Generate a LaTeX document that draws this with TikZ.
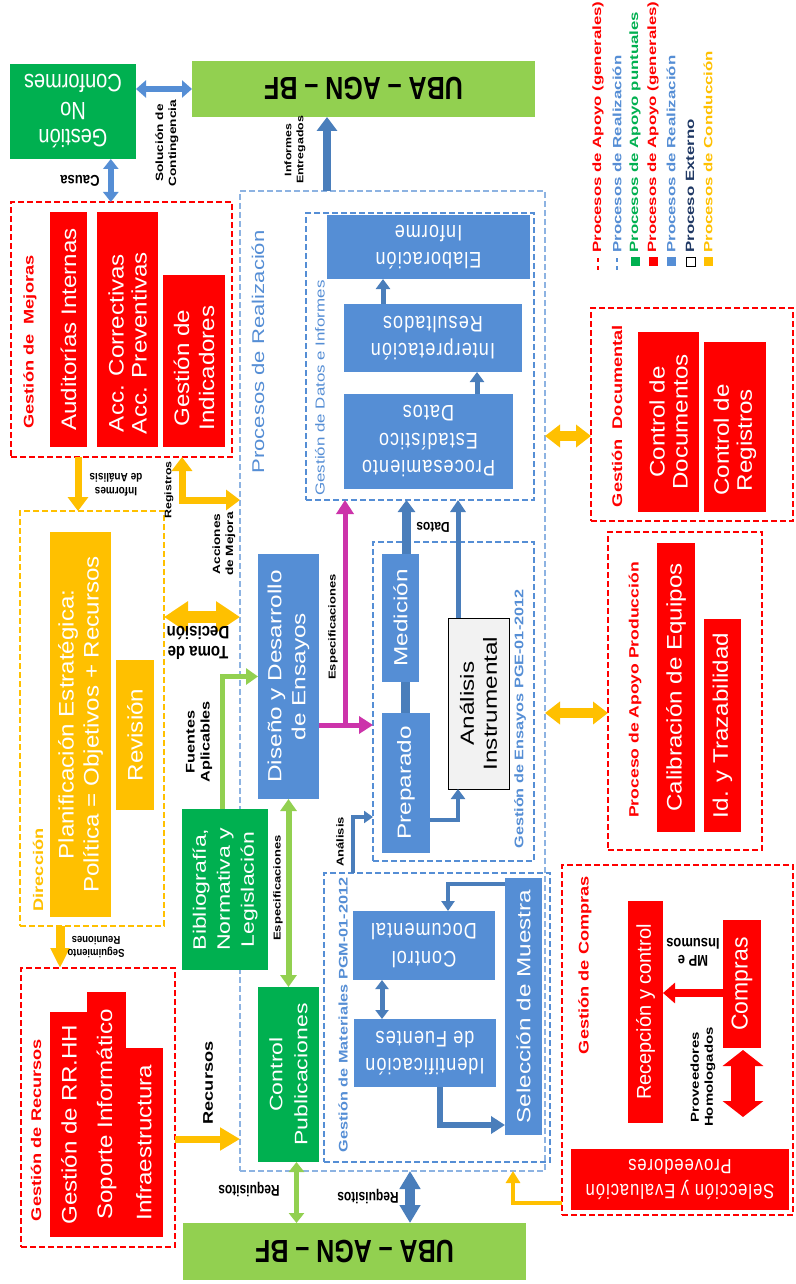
\documentclass[tikz,border=0pt]{standalone}
\usepackage{fontspec}
\setmainfont{Liberation Sans}
\newfontfamily\lsp[LetterSpace=6]{Liberation Sans}
\usetikzlibrary{arrows.meta,calc}
\newcommand\fs[2]{\fontsize{#1}{#2}\selectfont}
\definecolor{cred}{RGB}{255,0,0}
\definecolor{cblue}{RGB}{85,142,213}
\definecolor{cbluel}{RGB}{141,179,226}
\definecolor{carr}{RGB}{74,126,187}
\definecolor{cgreen}{RGB}{0,176,80}
\definecolor{clgreen}{RGB}{146,208,80}
\definecolor{cyel}{RGB}{255,192,0}
\definecolor{cmag}{RGB}{204,51,170}
\definecolor{cgray}{RGB}{242,242,242}
\definecolor{cnavy}{RGB}{31,56,100}
\tikzset{
 box/.style={anchor=north west,inner sep=0pt,outer sep=0pt},
 rdash/.style={draw=cred,line width=1.8pt,dash pattern=on 6pt off 3pt},
 ydash/.style={draw=cyel,line width=1.5pt,dash pattern=on 6pt off 3pt},
 odash/.style={draw=cbluel,line width=1.5pt,dash pattern=on 6pt off 3pt},
 idash/.style={draw=cblue,line width=1.5pt,dash pattern=on 6pt off 3pt},
 vtxt/.style={rotate=90,xscale=#1,align=center,inner sep=0pt},
 vtxt/.default=1.3,
 utxt/.style={rotate=180,yscale=#1,align=center,inner sep=0pt},
 utxt/.default=1.25,
 lbl/.style={font=\bfseries\fs{10}{12}},
 wt/.style={text=white},
}
\newcommand\bx[6]{\node[box,#6,minimum width={(#4-#2)*1pt},minimum height={(#5-#3)*1pt}] (#1) at (#2,#3) {};}
\begin{document}
\begin{tikzpicture}[x=1pt,y=-1pt]
\fill[white] (0,0) rectangle (795,1284);
\useasboundingbox (0,0) rectangle (795,1284);

% ---------- legend ----------
\foreach \x/\c/\t in {598/cred/Procesos de Apoyo (generales),617/cblue/Procesos de Realización,635/cgreen/Procesos de Apoyo puntuales,653/cred/Procesos de Apoyo (generales),671/cblue/Procesos de Realización,690/cnavy/Proceso Externo,708/cyel/Procesos de Conducción}
  \node[rotate=90,xscale=1.4,anchor=west,inner sep=0pt,text=\c,font=\bfseries\fs{12}{14}] at (\x,253) {\t};
\draw[cred,line width=1.8pt] (598,258) -- (598,262) (598,266) -- (598,270);
\draw[cblue,line width=1.8pt] (617,258) -- (617,262) (617,266) -- (617,270);
\fill[cgreen] (631,257) rectangle (640,266);
\fill[cred] (649,257) rectangle (658,266);
\fill[cblue] (667,257) rectangle (676,266);
\draw[black,line width=1pt] (686,257) rectangle (695,266);
\fill[cyel] (704,257) rectangle (713,266);

% ---------- top ----------
\bx{nc}{10}{64}{136}{159}{fill=cgreen}
\node[utxt,wt,font=\fs{20}{22}] at (nc.center) {Gestión\\No\\Conformes};
\bx{uba1}{192}{61}{535}{117}{fill=clgreen}
\node[utxt=1.28,font=\bfseries\fs{25}{28}] at (uba1.center) {UBA – AGN – BF};

% ---------- Gestión de Mejoras ----------
\bx{mej}{11}{202}{232}{457}{rdash}
\node[vtxt,text=cred,font=\bfseries\fs{14}{16}] at (30,342) {Gestión de \ Mejoras};
\bx{aud}{50}{212}{87}{447}{fill=cred}
\node[vtxt=1.15,wt,font=\fs{21}{23}] at (aud.center) {Auditorías Internas};
\bx{acc}{97}{212}{158}{447}{fill=cred}
\node[vtxt=1.15,wt,font=\fs{21}{23}] at (127.5,343) {Acc. Correctivas\\Acc. Preventivas};
\bx{ind}{163}{275}{225}{447}{fill=cred}
\node[vtxt=1.15,wt,font=\fs{21}{25}] at (194,368) {Gestión de\\Indicadores};

% ---------- Procesos de Realización ----------
\bx{real}{240}{191}{545}{1171}{odash}
\node[vtxt,text=cblue,font=\fs{17}{19}] at (258,352) {Procesos de Realización};

\bx{datos}{306}{213}{534}{500}{idash}
\node[vtxt,text=cblue,font=\fs{13}{15}] at (320,388) {Gestión de Datos e Informes};
\bx{elab}{327}{215}{530}{279}{fill=cblue}
\node[utxt,wt,font=\lsp\fs{18}{22}] at (elab.center) {Elaboración\\Informe};
\bx{interp}{344}{304}{522}{372}{fill=cblue}
\node[utxt,wt,font=\lsp\fs{18}{22}] at (interp.center) {Interpretación\\Resultados};
\bx{proc}{344}{394}{513}{489}{fill=cblue}
\node[utxt,wt,font=\lsp\fs{18}{22}] at (proc.center) {Procesamiento\\Estadístico\\Datos};

\bx{diseno}{258}{554}{319}{799}{fill=cblue}
\node[vtxt=1.28,wt,font=\fs{19}{24}] at (diseno.center) {Diseño y Desarrollo\\de Ensayos};

\bx{ens}{373}{542}{534}{861}{idash}
\node[vtxt,text=cblue,font=\bfseries\fs{12.5}{14}] at (520,719) {Gestión de Ensayos PGE-01-2012};
\bx{med}{382}{554}{419}{682}{fill=cblue}
\node[vtxt=1.28,wt,font=\fs{19}{22}] at (med.center) {Medición};
\bx{prep}{382}{713}{430}{853}{fill=cblue}
\node[vtxt=1.28,wt,font=\fs{19}{22}] at (prep.center) {Preparado};
\bx{anal}{448}{618}{509}{789}{fill=cgray,draw=black,line width=1pt}
\node[vtxt=1.28,font=\fs{19}{23}] at (anal.center) {Análisis\\Instrumental};

\bx{mat}{324}{873}{550}{1162}{idash}
\node[vtxt,text=cblue,font=\bfseries\fs{12.5}{14}] at (343,1015) {Gestión de Materiales PGM-01-2012};
\bx{sel}{505}{878}{542}{1135}{fill=cblue}
\node[vtxt=1.28,wt,font=\fs{19}{22}] at (sel.center) {Selección de Muestra};
\bx{ctrldoc}{353}{911}{495}{980}{fill=cblue}
\node[utxt,wt,font=\lsp\fs{18}{22}] at (ctrldoc.center) {Control\\Documental};
\bx{ident}{354}{1019}{496}{1087}{fill=cblue}
\node[utxt,wt,font=\lsp\fs{18}{22}] at (ident.center) {Identificación\\de Fuentes};

\bx{bib}{182}{809}{268}{970}{fill=cgreen}
\node[vtxt=1.28,wt,font=\fs{18}{24}] at (bib.center) {Bibliografía,\\Normativa y\\Legislación};
\bx{pub}{258}{987}{319}{1162}{fill=cgreen}
\node[vtxt=1.28,wt,font=\fs{18}{25}] at (pub.center) {Control\\Publicaciones};

\bx{uba2}{183}{1223}{526}{1280}{fill=clgreen}
\node[utxt=1.28,font=\bfseries\fs{25}{28}] at (uba2.center) {UBA – AGN – BF};

% ---------- Dirección ----------
\bx{dir}{20}{511}{164}{926}{ydash}
\node[vtxt,text=cyel,font=\bfseries\fs{14}{16}] at (38,870) {Dirección};
\bx{plan}{50}{532}{111}{917}{fill=cyel}
\node[vtxt=1.15,wt,font=\fs{21}{25}] at (plan.center) {Planificación Estratégica:\\Política = Objetivos + Recursos};
\bx{rev}{116}{660}{154}{810}{fill=cyel}
\node[vtxt=1.15,wt,font=\fs{21}{23}] at (rev.center) {Revisión};

% ---------- Recursos ----------
\bx{rec}{21}{968}{175}{1247}{rdash}
\node[vtxt,text=cred,font=\bfseries\fs{14}{16}] at (36,1130) {Gestión de Recursos};
\bx{rrhh}{50}{1012}{88}{1237}{fill=cred}
\node[vtxt=1.15,wt,font=\fs{21}{23}] at (rrhh.center) {Gestión de RR.HH};
\bx{sop}{87}{992}{126}{1237}{fill=cred}
\node[vtxt=1.15,wt,font=\fs{21}{23}] at (sop.center) {Soporte Informático};
\bx{infr}{125}{1048}{163}{1237}{fill=cred}
\node[vtxt=1.15,wt,font=\fs{21}{23}] at (infr.center) {Infraestructura};

% ---------- right side ----------
\bx{doc}{591}{308}{793}{521}{rdash}
\node[vtxt,text=cred,font=\bfseries\fs{14}{16}] at (617,416) {Gestión \ Documental};
\bx{cdoc}{638}{332}{699}{512}{fill=cred}
\node[vtxt=1.15,wt,font=\fs{21}{23}] at (cdoc.center) {Control de\\Documentos};
\bx{creg}{704}{342}{766}{512}{fill=cred}
\node[vtxt=1.15,wt,font=\fs{21}{23}] at (735,440) {Control de\\Registros};

\bx{prod}{608}{532}{762}{850}{rdash}
\node[vtxt,text=cred,font=\bfseries\fs{13.5}{16}] at (635,690) {Proceso de Apoyo Producción};
\bx{cal}{657}{543}{695}{832}{fill=cred}
\node[vtxt=1.15,wt,font=\fs{21}{23}] at (cal.center) {Calibración de Equipos};
\bx{idt}{704}{619}{741}{832}{fill=cred}
\node[vtxt=1.15,wt,font=\fs{21}{23}] at (idt.center) {Id. y Trazabilidad};

\bx{comp}{562}{865}{793}{1215}{rdash}
\node[vtxt,text=cred,font=\bfseries\fs{14}{16}] at (585,965) {Gestión de Compras};
\bx{recep}{628}{901}{663}{1123}{fill=cred}
\node[vtxt=1.0,wt,font=\fs{20}{23}] at (recep.center) {Recepción y control};
\bx{compras}{723}{920}{761}{1048}{fill=cred}
\node[vtxt=1.0,wt,font=\fs{23}{25}] at (compras.center) {Compras};
\bx{selprov}{571}{1149}{789}{1210}{fill=cred}
\node[utxt,wt,font=\lsp\fs{16.5}{20}] at (selprov.center) {Selección y Evaluación\\Proveedores};

% ---------- connectors ----------
% No conformes <-> UBA
\draw[draw=cblue,line width=6pt,{Triangle[length=10pt,width=17pt]}-{Triangle[length=10pt,width=17pt]}] (nc.east |- uba1.west) -- (uba1.west);
\node[vtxt,lbl,font=\bfseries\fs{10.5}{13}] at (167,143) {Solución de\\Contingencia};
% No conformes <-> Mejoras
\draw[draw=cblue,line width=6pt,{Triangle[length=10pt,width=15pt]}-{Triangle[length=10pt,width=15pt]}] ($(nc.south west)!.8!(nc.south east)$) coordinate (a1) -- (a1 |- mej.north);
\node[utxt=1.2,lbl,font=\bfseries\fs{13}{15}] at (80,181) {Causa};
% Informes entregados
\draw[draw=carr,line width=8pt,-{Triangle[length=14pt,width=20pt]}] ($(real.north west)+(87,0)$) coordinate (a2) -- (a2 |- uba1.south);
\node[vtxt,lbl,font=\bfseries\fs{9.5}{12}] at (295,150) {Informes\\Entregados};
% Mejoras -> Dirección
\draw[draw=cyel,line width=7pt,-{Triangle[length=14pt,width=20pt]}] ($(mej.south west)+(67,0)$) coordinate (a3) -- (a3 |- dir.north);
\node[utxt=1.2,lbl,font=\bfseries\fs{10}{12}] at (116,485) {Informes\\de Análisis};
% Registros / Acciones de Mejora
\draw[draw=cyel,line width=7pt,{Triangle[length=14pt,width=20pt]}-{Triangle[length=14pt,width=20pt]}] ($(mej.south west)+(171,0)$) |- ($(real.north west)+(0,309)$);
\node[vtxt,lbl,font=\bfseries\fs{9.5}{12}] at (169,490) {Registros};
\node[vtxt,lbl,font=\bfseries\fs{10.5}{13}] at (224,544) {Acciones\\de Mejora};
% Toma de decisión
\draw[draw=cyel,line width=12pt,{Triangle[length=24pt,width=30pt]}-{Triangle[length=24pt,width=30pt]}] ($(dir.north east)+(0,106)$) coordinate (a4) -- (a4 -| real.west);
\node[utxt=1.2,lbl,font=\bfseries\fs{15}{16}] at (198,643) {Toma de\\Decisión};
% Fuentes aplicables
\draw[draw=clgreen,line width=5pt,-{Triangle[length=12pt,width=16pt]}] ($(bib.north west)+(40,0)$) |- (diseno.west);
\node[vtxt,lbl,font=\bfseries\fs{12.5}{15}] at (199,742) {Fuentes\\Aplicables};
% Diseño <-> Publicaciones
\draw[draw=clgreen,line width=6pt,{Triangle[length=12pt,width=16pt]}-{Triangle[length=12pt,width=16pt]}] (diseno.south) -- (pub.north);
\node[vtxt,lbl] at (278,888) {Especificaciones};
% Publicaciones <-> UBA
\draw[draw=clgreen,line width=5pt,{Triangle[length=10pt,width=15pt]}-{Triangle[length=10pt,width=15pt]}] ($(pub.south)+(8,0)$) coordinate (a5) -- (a5 |- uba2.north);
\node[utxt=1.3,lbl,font=\bfseries\fs{12}{14}] at (249,1190) {Requisitos};
% Realización <-> UBA
\draw[draw=carr,line width=10pt,{Triangle[length=18pt,width=20pt]}-{Triangle[length=18pt,width=20pt]}] ($(real.south west)+(170,0)$) coordinate (a6) -- (a6 |- uba2.north);
\node[utxt=1.3,lbl,font=\bfseries\fs{12}{14}] at (368,1197) {Requisitos};
% Recursos
\draw[draw=cyel,line width=7pt,-{Triangle[length=20pt,width=22pt]}] ($(rec.north east)+(0,171)$) coordinate (a7) -- (a7 -| real.west);
\node[vtxt,lbl,font=\bfseries\fs{14}{16}] at (208,1083) {Recursos};
% Dirección -> Recursos
\draw[draw=cyel,line width=9pt,-{Triangle[length=20pt,width=18pt]}] ($(dir.south west)+(40,0)$) coordinate (a8) -- (a8 |- rec.north);
\node[utxt=1.2,lbl,font=\bfseries\fs{9.5}{11}] at (96,947) {Seguimiento\\Reuniones};
% Documental
\draw[draw=cyel,line width=10pt,{Triangle[length=15pt,width=22pt]}-{Triangle[length=15pt,width=22pt]}] ($(doc.north west)+(0,128)$) coordinate (a9) -- (a9 -| real.east);
% Producción
\draw[draw=cyel,line width=10pt,{Triangle[length=15pt,width=22pt]}-{Triangle[length=15pt,width=22pt]}] ($(prod.north west)+(0,181)$) coordinate (a10) -- (a10 -| real.east);
% Compras -> Realización
\draw[draw=cyel,line width=4pt,-{Triangle[length=12pt,width=14pt]}] ($(comp.north west)+(0,338)$) -| ($(real.south west)+(273,0)$);

% inner blue
\draw[draw=carr,line width=5pt,-{Triangle[length=10pt,width=14pt]}] ($(interp.north west)+(39,0)$) coordinate (b1) -- (b1 |- elab.south);
\draw[draw=carr,line width=5pt,-{Triangle[length=10pt,width=14pt]}] ($(proc.north west)+(133,0)$) coordinate (b2) -- (b2 |- interp.south);
\draw[draw=carr,line width=9pt,-{Triangle[length=12pt,width=17pt]}] ($(med.north)+(6,0)$) coordinate (b3) -- (b3 |- datos.south);
\draw[draw=carr,line width=9pt] ($(med.south)+(5,0)$) coordinate (b4) -- (b4 |- prep.north);
\draw[draw=carr,line width=5pt,-{Triangle[length=12pt,width=15pt]}] ($(anal.north west)+(10,0)$) coordinate (b5) -- (b5 |- datos.south);
\node[utxt=1.2,lbl,font=\bfseries\fs{12}{14}] at (433,527) {Datos};
\draw[draw=carr,line width=4pt,-{Triangle[length=10pt,width=14pt]}] ($(prep.north east)+(0,107)$) -| ($(anal.south west)+(10,0)$);
\draw[draw=carr,line width=3.5pt,-{Triangle[length=9pt,width=12pt]}] ($(mat.north west)+(29,0)$) |- ($(ens.south west)+(0,-44)$);
\node[vtxt,lbl] at (340,842) {Análisis};
% magenta
\coordinate (mj) at ($(datos.south west)+(39,225)$);
\draw[draw=cmag,line width=5pt,-{Triangle[length=14pt,width=17pt]}] (mj -| diseno.east) -- (mj -| ens.west);
\draw[draw=cmag,line width=5pt,-{Triangle[length=14pt,width=17pt]}] (mj) -- (mj |- datos.south);
\node[vtxt,lbl] at (333,627) {Especificaciones};
% materiales
\draw[draw=carr,line width=4pt,-{Triangle[length=10pt,width=13pt]}] ($(sel.north west)+(0,6)$) -| ($(ctrldoc.north west)+(95,0)$);
\draw[draw=carr,line width=5pt,{Triangle[length=9pt,width=13pt]}-{Triangle[length=9pt,width=13pt]}] ($(ctrldoc.south west)+(29,0)$) coordinate (b6) -- (b6 |- ident.north);
\draw[draw=carr,line width=6pt,-{Triangle[length=14pt,width=17pt]}] ($(ident.south west)+(86,0)$) |- ($(sel.south west)+(0,-10)$);

% compras internal
\draw[draw=cred,line width=8pt,-{Triangle[length=12pt,width=20pt]}] ($(compras.north west)+(0,73)$) coordinate (c1) -- (c1 -| recep.east);
\node[utxt=1.2,lbl,font=\bfseries\fs{13}{14}] at (693,952) {MP e\\Insumos};
\draw[draw=cred,line width=24pt,{Triangle[length=16pt,width=40pt]}-{Triangle[length=16pt,width=40pt]}] ($(compras.south west)+(20,2)$) -- ($(selprov.north west)+(172,-32)$);
\node[vtxt,lbl,font=\bfseries\fs{11.5}{14}] at (703,1077) {Proveedores\\Homologados};
\end{tikzpicture}
\end{document}
